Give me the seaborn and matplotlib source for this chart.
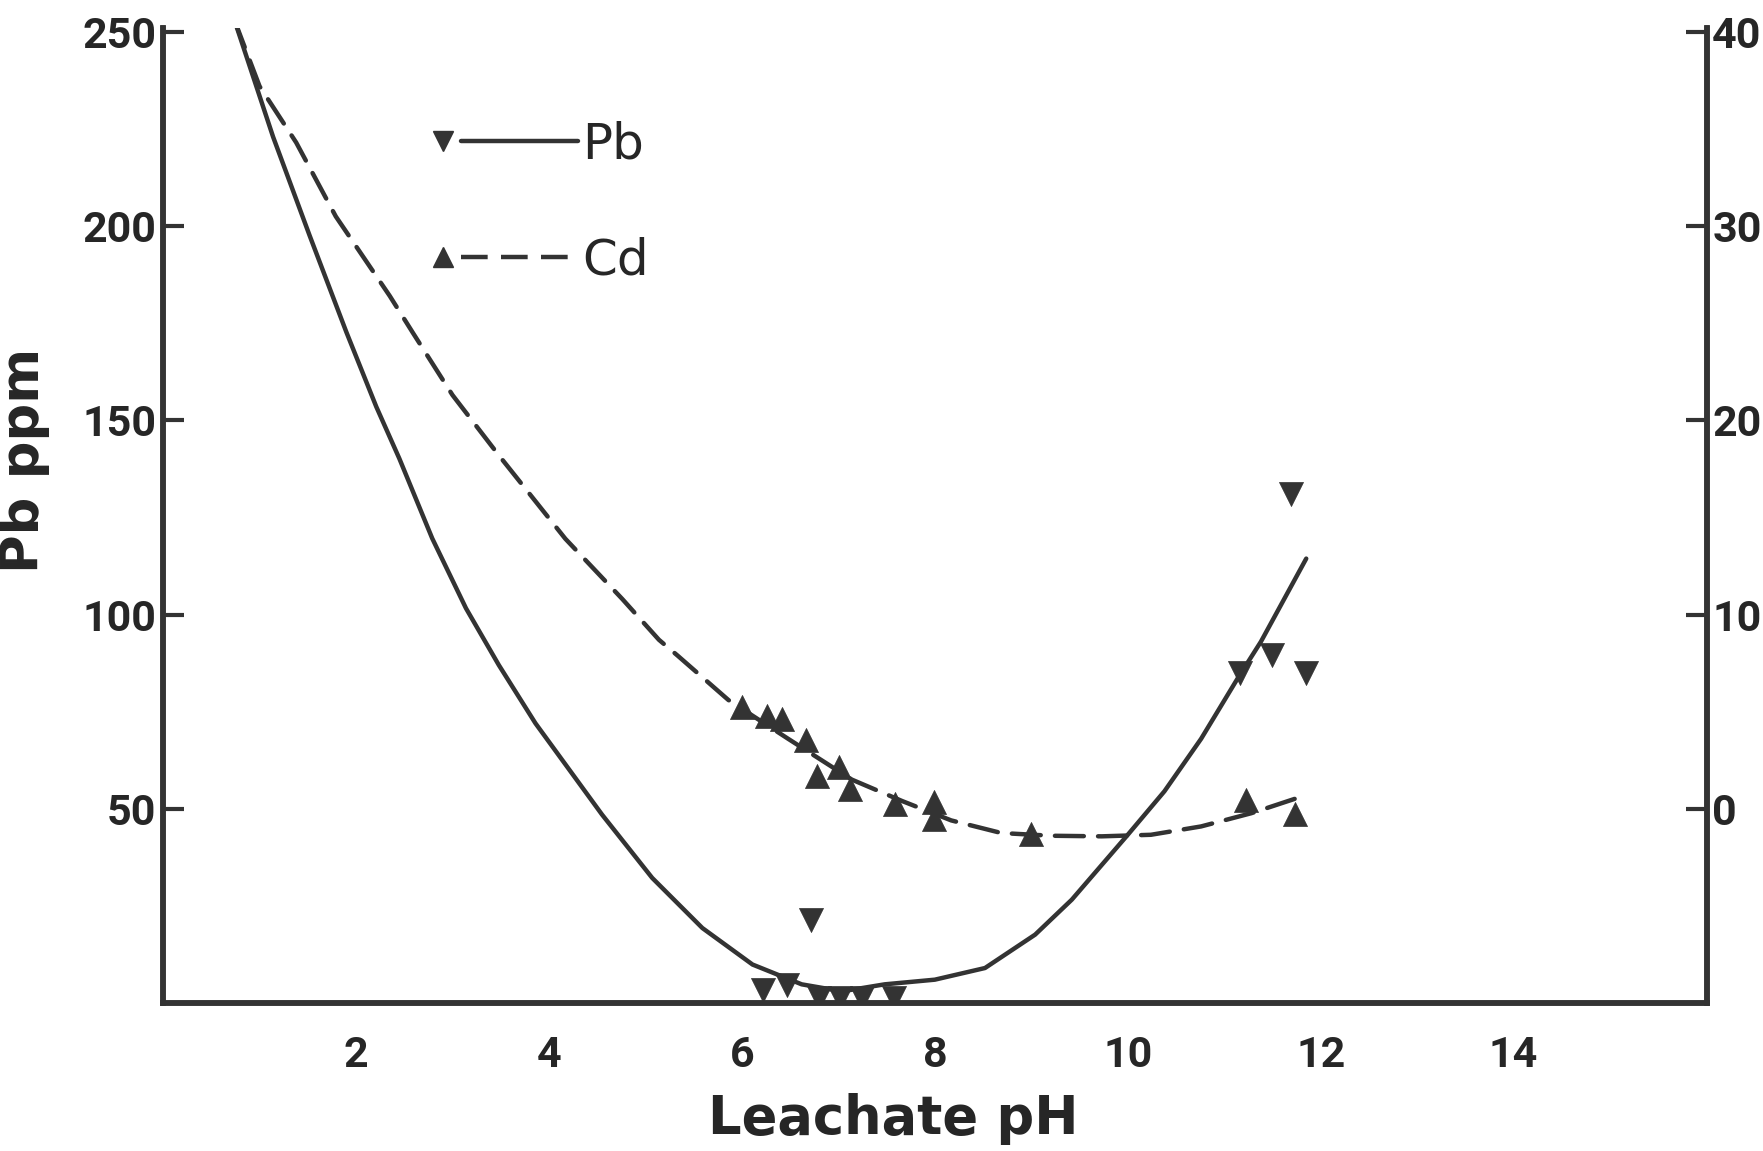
import matplotlib
matplotlib.use("Agg")
import matplotlib.pyplot as plt
from matplotlib.lines import Line2D
from matplotlib.legend_handler import HandlerBase
import seaborn as sns
import pandas as pd

# ---------------- data ----------------
# Pb measured points (ppm, left axis)
pb_ph = [6.22, 6.47, 6.80, 7.02, 7.24, 7.58, 6.72, 11.16, 11.49, 11.85, 11.69]
pb_val = [3.3, 4.6, 1.2, 1.4, 1.4, 1.2, 21.3, 85.0, 89.6, 85.0, 131.0]

# Cd measured points (right axis)
cd_ph = [6.00, 6.26, 6.42, 6.66, 6.78, 7.01, 7.12, 7.59, 7.99, 7.99, 9.00, 11.23, 11.73]
cd_val = [5.22, 4.78, 4.62, 3.56, 1.71, 2.14, 1.03, 0.27, 0.35, -0.51, -1.30, 0.46, -0.25]

# hand-drawn fitted curves
pb_curve_ph = [0.74, 1.14, 1.52, 1.90, 2.21, 2.45, 2.79, 3.14, 3.48, 3.86, 4.55,
               5.07, 5.59, 6.11, 6.62, 7.04, 7.48, 8.00, 8.52, 9.04, 9.42, 10.00,
               10.38, 10.76, 11.14, 11.38, 11.85]
pb_curve_val = [253, 223, 197.5, 172.7, 153.5, 140.1, 119.6, 101.6, 87.0, 72.0, 48.5,
                32.2, 19.3, 9.9, 4.8, 3.0, 4.8, 6.0, 9.0, 17.6, 26.6, 43.3,
                54.5, 68.0, 83.6, 93.0, 114.4]

cd_curve_ph = [0.74, 1.00, 1.38, 1.79, 2.35, 2.59, 3.00, 3.48, 4.17, 4.76, 5.14, 5.33,
               5.86, 6.48, 7.14, 7.66, 8.17, 8.69, 9.21, 9.73, 10.24, 10.76, 11.28, 11.81]
cd_curve_val = [40.6, 37.2, 34.3, 30.5, 26.4, 24.5, 21.3, 18.2, 13.9, 10.8, 8.7, 7.9,
                5.6, 3.6, 1.5, 0.4, -0.6, -1.25, -1.39, -1.42, -1.34, -0.91, -0.23, 0.64]

x_ticks = [2, 4, 6, 8, 10, 12, 14]
left_ticks = [50, 100, 150, 200, 250]
right_ticks = [0, 10, 20, 30, 40]

# ---------------- style ----------------
sns.set_style("white")
plt.rcParams['font.family'] = ['DejaVu Sans']
INK = "#333333"
TXT = "#262626"
NARROW = ['Liberation Sans Narrow', 'Roboto', 'DejaVu Sans']

fig = plt.figure(figsize=(17.63, 11.51), dpi=100)
ax = fig.add_axes([0.0925, 0.1286, 0.8755, 0.8471])
ax2 = ax.twinx()

pb_pts = pd.DataFrame({"pH": pb_ph, "val": pb_val})
cd_pts = pd.DataFrame({"pH": cd_ph, "val": cd_val})
pb_cur = pd.DataFrame({"pH": pb_curve_ph, "val": pb_curve_val})
cd_cur = pd.DataFrame({"pH": cd_curve_ph, "val": cd_curve_val})

LW = 3.2
DASH = (6.5, 3.2)
sns.lineplot(data=pb_cur, x="pH", y="val", ax=ax, sort=False, estimator=None,
             color=INK, lw=LW)
ax.lines[-1].set_solid_joinstyle('round')
sns.scatterplot(data=pb_pts, x="pH", y="val", ax=ax, marker="v", s=300,
                color=INK, edgecolor=INK, linewidth=0.5, zorder=4)

sns.lineplot(data=cd_cur, x="pH", y="val", ax=ax2, sort=False, estimator=None,
             color=INK, lw=LW)
ax2.lines[-1].set_dashes(DASH)
ax2.lines[-1].set_dash_capstyle('round')
sns.scatterplot(data=cd_pts, x="pH", y="val", ax=ax2, marker="^", s=300,
                color=INK, edgecolor=INK, linewidth=0.5, zorder=4)

# ---------------- axes ----------------
ax.set_xlim(0, 16)
ax.set_ylim(0, 251)
ax2.set_ylim(-10, 40.2)

ax.set_xticks(x_ticks)
ax.set_xticklabels([str(t) for t in x_ticks])
ax.set_yticks(left_ticks)
ax.set_yticklabels([str(t) for t in left_ticks])
ax2.set_yticks(right_ticks)
ax2.set_yticklabels([str(t) for t in right_ticks])

for a in (ax, ax2):
    for s in a.spines.values():
        s.set_linewidth(4.0)
        s.set_color(INK)
ax.spines['top'].set_visible(False)
ax2.spines['top'].set_visible(False)

ax.tick_params(axis='x', direction='out', length=13, width=3, color=INK, pad=10)
ax.tick_params(axis='y', direction='in', length=15, width=3, color=INK, pad=5)
ax2.tick_params(axis='y', direction='in', length=15, width=3, color=INK, pad=4)

for lab in ax.get_xticklabels() + ax.get_yticklabels() + ax2.get_yticklabels():
    lab.set_fontfamily(NARROW)
    lab.set_fontweight('bold')
    lab.set_fontsize(31)
    lab.set_color(TXT)

ax.set_xlabel("Leachate pH", fontsize=38, fontweight='bold', color=TXT)
ax.set_ylabel("Pb ppm", fontsize=38, fontweight='bold', color=TXT)
ax2.set_ylabel("")
ax.xaxis.set_label_coords(0.473, -0.092)
ax.yaxis.set_label_coords(-0.073, 0.556)


# ---------------- legend (marker at the left end of the sample line) ----------------
class MarkerFirst(HandlerBase):
    def create_artists(self, legend, orig_handle, xdescent, ydescent, width,
                       height, fontsize, trans):
        y = height / 2 - ydescent
        x0 = -xdescent
        x1 = -xdescent + width
        mk = Line2D([x0 + 0.25 * fontsize], [y], linestyle='none',
                    marker=orig_handle.get_marker(),
                    markersize=orig_handle.get_markersize(),
                    color=orig_handle.get_color())
        ln = Line2D([x0 + 0.62 * fontsize, x1], [y, y])
        ln.update_from(orig_handle)
        ln.set_marker('None')
        ln.set_data([x0 + 0.62 * fontsize, x1], [y, y])
        mk.set_transform(trans)
        ln.set_transform(trans)
        return [ln, mk]


h_pb = Line2D([0, 1], [0, 0], color=INK, lw=LW, marker='v', markersize=15)
h_cd = Line2D([0, 1], [0, 0], color=INK, lw=LW, marker='^', markersize=15,
              dashes=(6.0, 3.0))
leg = ax.legend([h_pb, h_cd], ["Pb", "Cd"], loc='upper left',
                bbox_to_anchor=(0.173, 0.905), frameon=False,
                handlelength=2.95, handletextpad=0.1, labelspacing=1.35,
                borderpad=0, borderaxespad=0,
                handler_map={Line2D: MarkerFirst()},
                prop={'family': 'DejaVu Sans', 'size': 36})
for t in leg.get_texts():
    t.set_color(TXT)

fig.savefig("out.png", dpi=100, facecolor="white")
